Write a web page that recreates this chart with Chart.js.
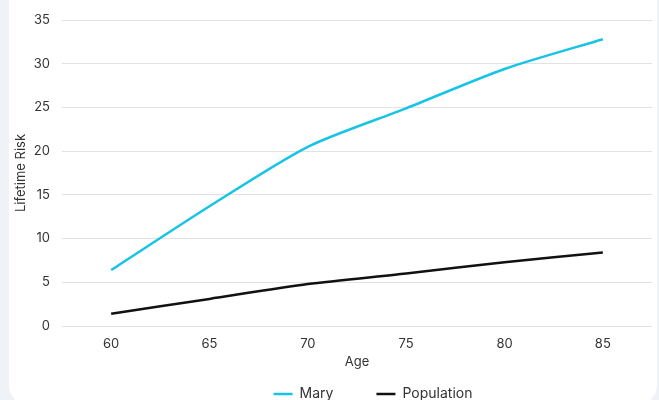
<!DOCTYPE html>
<html>
<head>
<meta charset="utf-8">
<script src="https://cdn.jsdelivr.net/npm/chart.js@4"></script>
<style>
  html, body { margin: 0; padding: 0; width: 659px; height: 400px; overflow: hidden; background: #eff2f6; }
  .card { position: absolute; left: 9px; top: -20px; width: 648px; height: 425px; background: #ffffff; border-radius: 20px; }
  .wrap { position: absolute; left: 0; top: 0; width: 659px; height: 433px; }
</style>
</head>
<body>
<div class="card"></div>
<div class="wrap"><canvas id="riskChart"></canvas></div>
<script>
// Age groups on the x axis
const ages = ['60', '65', '70', '75', '80', '85'];
// Lifetime risk (%) per age
const maryRisk = [6.4, 13.7, 20.5, 24.9, 29.4, 32.8];
const populationRisk = [1.4, 3.1, 4.8, 6.0, 7.3, 8.4];
// Y axis range
const yMin = 0;
const yMax = 35;
const yStep = 5;

const FONT = 'Inter, "Noto Sans", sans-serif';
const TEXT = '#333333';

// Nudges the legend row into place under the plot
const legendShift = {
  id: 'legendShift',
  afterLayout(chart) {
    const lg = chart.legend;
    if (lg) {
      lg.left += 47; lg.right += 47;
      lg.top -= 22; lg.bottom -= 22;
    }
  }
};

new Chart(document.getElementById('riskChart'), {
  type: 'line',
  data: {
    labels: ages,
    datasets: [
      {
        label: 'Mary',
        data: maryRisk,
        borderColor: '#17c4e6',
        backgroundColor: '#17c4e6',
        borderWidth: 2.5,
        pointRadius: 0,
        tension: 0.25
      },
      {
        label: 'Population',
        data: populationRisk,
        borderColor: '#111111',
        backgroundColor: '#111111',
        borderWidth: 2.5,
        pointRadius: 0,
        tension: 0.25
      }
    ]
  },
  options: {
    responsive: true,
    maintainAspectRatio: false,
    animation: false,
    layout: { padding: { top: 20, right: 7, left: 0, bottom: 0 } },
    plugins: {
      tooltip: { enabled: false },
      legend: {
        position: 'bottom',
        labels: {
          usePointStyle: true,
          pointStyle: 'line',
          pointStyleWidth: 19,
          padding: 43,
          color: TEXT,
          font: { family: FONT, size: 14 }
        }
      }
    },
    scales: {
      x: {
        offset: true,
        grid: { display: false },
        border: { display: false },
        ticks: { color: TEXT, padding: 2, font: { family: FONT, size: 13 } },
        title: {
          display: true,
          text: 'Age',
          color: TEXT,
          font: { family: FONT, size: 13 },
          padding: { top: 0, bottom: -4 }
        },
        afterFit(scale) { scale.height = 40; }
      },
      y: {
        min: yMin,
        max: yMax,
        grid: { color: '#dfe3e3', lineWidth: 1, drawTicks: false },
        border: { display: false },
        ticks: { stepSize: yStep, color: TEXT, padding: 12, font: { family: FONT, size: 13 } },
        title: {
          display: true,
          text: 'Lifetime Risk',
          color: TEXT,
          font: { family: FONT, size: 13 },
          padding: { top: 13, bottom: 0 }
        },
        afterFit(scale) { scale.width = 62; }
      }
    }
  },
  plugins: [legendShift]
});
</script>
</body>
</html>
